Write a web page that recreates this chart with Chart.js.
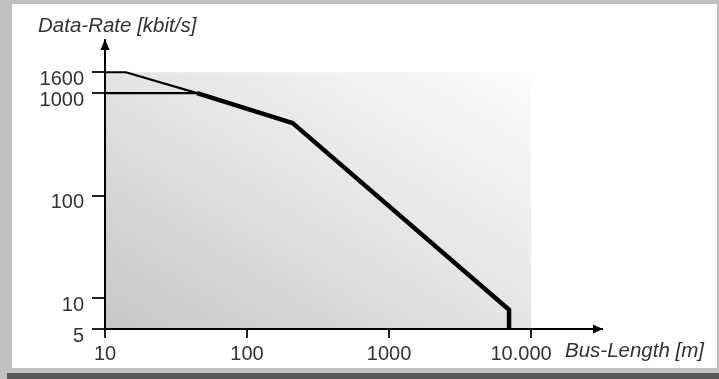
<!DOCTYPE html>
<html>
<head>
<meta charset="utf-8">
<script src="https://cdn.jsdelivr.net/npm/chart.js@4/dist/chart.umd.min.js"></script>
<style>
  body { margin: 0; background: #fff; }
  #frame { position: relative; width: 719px; height: 379px; background: #c0c0c0; overflow: hidden; }
  #paper { position: absolute; left: 12px; top: 4px; width: 705px; height: 364px; background: #fff; }
  #shadow { position: absolute; left: 7px; top: 373px; width: 712px; height: 6px; background: #595959; }
  #wrap { position: absolute; left: 0; top: 0; width: 719px; height: 379px; }
</style>
</head>
<body>
<div id="frame">
  <div id="paper"></div>
  <div id="shadow"></div>
  <div id="wrap"><canvas id="busChart" width="719" height="379"></canvas></div>
</div>
<script>
// axis ticks
const xTicks = [10, 100, 1000, 10000];
const xLabels = ["10", "100", "1000", "10.000\u2003"];
const yTicks = [5, 10, 100, 1000, 1600];

// line segments (bus length in m, rate in kbit/s)
const fastLenX = [10, 14, 44.5];
const fastRateY = [1600, 1600, 1000];
const stdLenX = [10, 44.5];
const stdRateY = [1000, 1000];
const limitLenX = [44.5, 210, 7000, 7000];
const limitRateY = [1000, 510, 7.7, 5];

const toPoints = (xs, ys) => xs.map((x, i) => ({ x: x, y: ys[i] }));

const fontFam = "'Liberation Sans', Arial, sans-serif";

const decor = {
  id: "decor",
  beforeDraw(chart) {
    const ctx = chart.ctx;
    const xs = chart.scales.x, ys = chart.scales.y;
    const l = xs.getPixelForValue(10), r = xs.getPixelForValue(10000);
    const t = ys.getPixelForValue(1600), b = ys.getPixelForValue(5);
    // gradient: darkest bottom-left, lightest top-right, TL ~ BR
    const w = r - l, h = b - t;
    const len = Math.hypot(w, h);
    const dx = h / len, dy = -w / len;
    const reach = (w * dx - h * dy);
    const g = ctx.createLinearGradient(l, b, l + dx * reach, b + dy * reach);
    g.addColorStop(0, "#c6c6c6");
    g.addColorStop(0.5, "#e4e4e4");
    g.addColorStop(1, "#fcfcfc");
    ctx.save();
    ctx.fillStyle = g;
    ctx.fillRect(l, t, w, h);
    ctx.restore();
  },
  afterDraw(chart) {
    const ctx = chart.ctx;
    const a = chart.chartArea;
    ctx.save();
    ctx.fillStyle = "#000";
    // y arrow
    ctx.beginPath();
    ctx.moveTo(a.left, a.top - 1);
    ctx.lineTo(a.left - 4.5, a.top + 10);
    ctx.lineTo(a.left + 4.5, a.top + 10);
    ctx.closePath();
    ctx.fill();
    // x arrow
    ctx.beginPath();
    ctx.moveTo(a.right + 1, a.bottom);
    ctx.lineTo(a.right - 9, a.bottom - 4.5);
    ctx.lineTo(a.right - 9, a.bottom + 4.5);
    ctx.closePath();
    ctx.fill();
    // axis titles
    ctx.fillStyle = "#333";
    ctx.font = "italic 20.5px " + fontFam;
    ctx.textBaseline = "alphabetic";
    ctx.textAlign = "left";
    ctx.fillText("Data-Rate [kbit/s]", 38, 32);
    ctx.fillText("Bus-Length [m]", 565, 357);
    ctx.restore();
  }
};

new Chart(document.getElementById("busChart"), {
  type: "scatter",
  data: {
    datasets: [
      { data: toPoints(fastLenX, fastRateY), borderWidth: 2.2 },
      { data: toPoints(stdLenX, stdRateY), borderWidth: 2.2 },
      { data: toPoints(limitLenX, limitRateY), borderWidth: 4.5 }
    ]
  },
  options: {
    responsive: false,
    animation: false,
    showLine: true,
    layout: { padding: { left: 0, right: 117, top: 40, bottom: 0 } },
    elements: {
      point: { radius: 0 },
      line: { borderColor: "#000", tension: 0, borderJoinStyle: "round", borderCapStyle: "butt" }
    },
    plugins: { legend: { display: false }, tooltip: { enabled: false } },
    scales: {
      x: {
        type: "logarithmic",
        min: 10,
        max: 31600,
        afterBuildTicks: s => { s.ticks = xTicks.map(v => ({ value: v })); },
        afterFit: s => { s.height = 50; },
        border: { display: true, color: "#000", width: 2 },
        grid: { drawOnChartArea: false, drawTicks: true, tickLength: 9, color: "#222", lineWidth: 2 },
        ticks: {
          autoSkip: false,
          maxRotation: 0,
          padding: 4,
          color: "#333",
          font: { family: fontFam, size: 20 },
          callback: (v, i) => xLabels[i]
        }
      },
      y: {
        type: "logarithmic",
        min: 5,
        max: 3300,
        afterBuildTicks: s => { s.ticks = yTicks.map(v => ({ value: v })); },
        afterFit: s => { s.width = 105; },
        border: { display: true, color: "#000", width: 2 },
        grid: { drawOnChartArea: false, drawTicks: true, tickLength: 13, color: "#222", lineWidth: 2 },
        ticks: {
          autoSkip: false,
          padding: 8,
          labelOffset: 7,
          color: "#333",
          font: { family: fontFam, size: 20 },
          callback: v => String(v)
        }
      }
    }
  },
  plugins: [decor]
});
</script>
</body>
</html>
